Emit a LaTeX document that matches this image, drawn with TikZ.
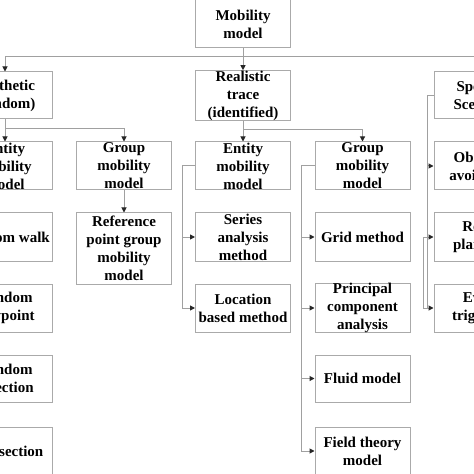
\documentclass[tikz,border=0pt]{standalone}
\usepackage{fontspec}
\setmainfont{Liberation Serif}
\usetikzlibrary{arrows.meta}
\definecolor{linegray}{RGB}{160,160,160}
\definecolor{boxgray}{RGB}{170,170,170}
\tikzset{
  box/.style={draw=boxgray, line width=1bp, minimum width=95bp, minimum height=48bp,
    inner sep=0pt, align=center, text=black,
    font=\fontsize{15bp}{18bp}\selectfont\bfseries},
  conn/.style={draw=linegray, line width=1bp,
    -{Triangle[width=5bp,length=5bp,color=black!85]}},
  plain/.style={draw=linegray, line width=1bp}
}
\begin{document}
\begin{tikzpicture}[x=1bp,y=-1bp]
\useasboundingbox (0,0) rectangle (474,474);
\clip (0,0) rectangle (474,474);
\fill[white] (0,0) rectangle (474,474);
% level 0
\node[box] (mob) at (243,24) {Mobility\\model};
% level 1
\node[box, minimum height=47bp] (syn) at (5,95.5) {Synthetic\\(random)};
\node[box, minimum height=47bp] (real) at (243,95.5) {Realistic\\trace\\(identified)};
\node[box, minimum height=47bp] (spec) at (481.5,95.5) {Specific\\Scenario};
% column A
\node[box] (eA) at (5,166) {Entity\\mobility\\model};
\node[box] (rw) at (5,237) {Random walk};
\node[box] (rwp) at (5,308) {Random\\waypoint};
\node[box, minimum height=47bp] (rd) at (5,378.5) {Random\\direction};
\node[box] (is) at (5,451) {Intersection};
% column B
\node[box] (gB) at (124,166) {Group\\mobility\\model};
\node[box, minimum height=71bp] (ref) at (124,248.5) {Reference\\point group\\mobility\\model};
% column C
\node[box] (eC) at (243,166) {Entity\\mobility\\model};
\node[box] (ser) at (243,237) {Series\\analysis\\method};
\node[box] (loc) at (243,308) {Location\\based method};
% column D
\node[box] (gD) at (362.5,166) {Group\\mobility\\model};
\node[box] (grid) at (362.5,237) {Grid method};
\node[box] (pca) at (362.5,308) {Principal\\component\\analysis};
\node[box, minimum height=47bp] (flu) at (362.5,378.5) {Fluid model};
\node[box] (fld) at (362.5,451) {Field theory\\model};
% column E
\node[box] (obs) at (481.5,166) {Obstacle\\avoidance};
\node[box] (rp) at (481.5,237) {Route\\planning};
\node[box] (ev) at (481.5,308) {Event\\triggered};
% top bus
\coordinate (bus) at (243,57);
\draw[conn] (mob.south) -- (real.north);
\draw[plain] (syn.north |- bus) -- (spec.north |- bus);
\draw[conn] (syn.north |- bus) -- (syn.north);
\draw[conn] (spec.north |- bus) -- (spec.north);
% synthetic children
\draw[conn] (syn.south) -- (eA.north);
\draw[conn] (syn.south) -- ++(0,9) -| (gB.north);
\draw[conn] (gB.south) -- (ref.north);
% realistic children
\draw[conn] (real.south) -- (eC.north);
\draw[conn] (real.south) -- ++(0,9) -| (gD.north);
% entity (realistic) branches
\draw[conn] (eC.west) -- ++(-13,0) |- (loc.west);
\draw[conn] ([xshift=-13bp]eC.west) |- (ser.west);
% group (realistic) branches
\draw[conn] (gD.west) -- ++(-13,0) |- (fld.west);
\draw[conn] ([xshift=-13bp]gD.west) |- (grid.west);
\draw[conn] ([xshift=-13bp]gD.west) |- (pca.west);
\draw[conn] ([xshift=-13bp]gD.west) |- (flu.west);
% specific scenario branches
\draw[conn] (spec.west) -- ++(-6,0) |- (ev.west);
\draw[conn] ([xshift=-6bp]spec.west) |- (obs.west);
\draw[conn] ([xshift=-6bp]spec.west) |- (rp.west);
\draw[plain] ([xshift=-6bp]rp.west) -- ++(-4,0) |- ([xshift=-6bp]ev.west);
\end{tikzpicture}
\end{document}
